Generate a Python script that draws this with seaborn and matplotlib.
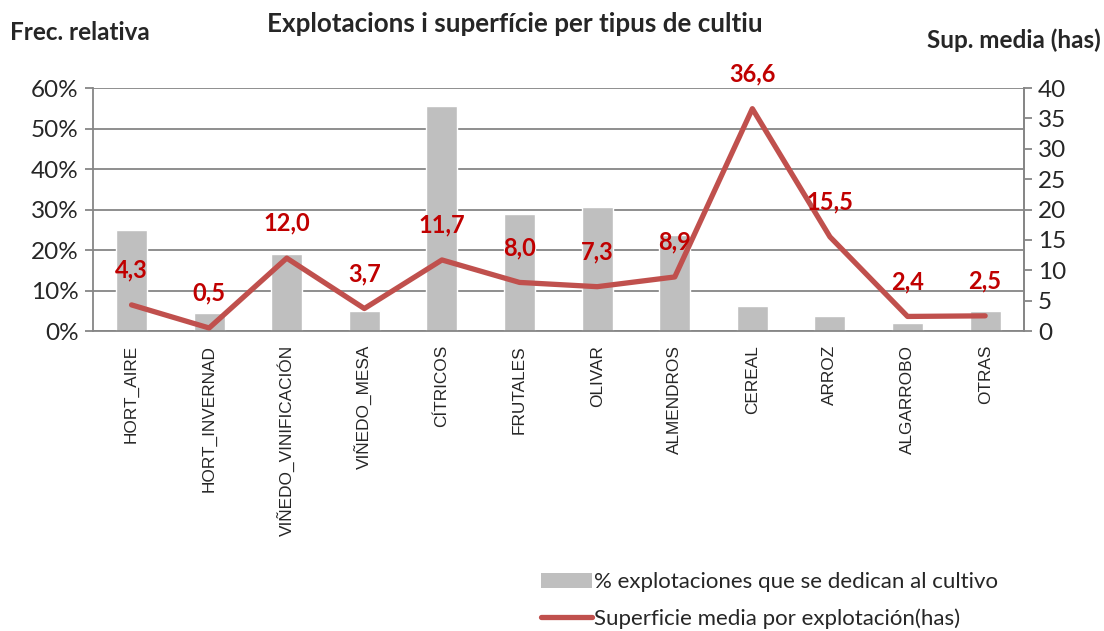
import numpy as np
import pandas as pd
import matplotlib
matplotlib.use("Agg")
import matplotlib.pyplot as plt
import seaborn as sns
from matplotlib.patches import Patch
from matplotlib.lines import Line2D
from matplotlib.ticker import FuncFormatter, MultipleLocator, FixedLocator

# Data
cultivos = ['HORT_AIRE', 'HORT_INVERNAD', 'VIÑEDO_VINIFICACIÓN', 'VIÑEDO_MESA',
            'CÍTRICOS', 'FRUTALES', 'OLIVAR', 'ALMENDROS', 'CEREAL', 'ARROZ',
            'ALGARROBO', 'OTRAS']
pct_explotaciones = [25.0, 4.5, 19.0, 5.0, 55.5, 28.8, 30.5, 23.8, 6.1, 3.8, 2.0, 5.0]
sup_media = [4.3, 0.5, 12.0, 3.7, 11.7, 8.0, 7.3, 8.9, 36.6, 15.5, 2.4, 2.5]

bar_label = '% explotaciones que se dedican al cultivo'
line_label = 'Superficie media por explotación(has)'

sns.set_style("white")
plt.rcParams['font.family'] = ['Lato', 'DejaVu Sans']

df = pd.DataFrame({'cultivo': cultivos, 'pct': pct_explotaciones, 'sup': sup_media})
df['pos'] = np.arange(len(df))

fig = plt.figure(figsize=(11.04, 6.31), dpi=100)
ax = fig.add_axes([0.084, 0.4754, 0.8435, 0.3851])

bar_color = '#BFBFBF'
line_color = '#C0504D'
grid_color = '#868686'

sns.barplot(data=df, x='cultivo', y='pct', color=bar_color, width=0.4,
            saturation=1, ax=ax, zorder=2)
ax.set_ylim(0, 60)
ax.yaxis.set_major_locator(MultipleLocator(10))
ax.yaxis.set_major_formatter(FuncFormatter(lambda v, p: f'{v:.0f}%'))
ax.grid(axis='y', color=grid_color, linewidth=1.3, zorder=0)
ax.set_axisbelow(True)
ax.set_xlim(-0.5, len(df) - 0.5)
ax.set_xlabel('')
ax.set_ylabel('')

# ticks between categories, labels at centers
ax.xaxis.set_major_locator(FixedLocator(df['pos']))
ax.set_xticklabels(cultivos, rotation=90, fontsize=12.4,
                   family=['Liberation Sans', 'DejaVu Sans'])
ax.xaxis.set_minor_locator(FixedLocator(np.arange(-0.5, len(df), 1)))
ax.tick_params(axis='x', which='major', length=0, pad=10)
ax.tick_params(axis='x', which='minor', length=6, color=grid_color, width=1.3, direction='out')
ax.tick_params(axis='y', labelsize=17.5, length=6, color=grid_color, width=1.3,
               direction='out', pad=4)

ax.spines['top'].set_visible(False)
for side in ['left', 'bottom', 'right']:
    ax.spines[side].set_color(grid_color)
    ax.spines[side].set_linewidth(1.3)

ax2 = ax.twinx()
sns.lineplot(data=df, x='pos', y='sup', sort=False, color=line_color,
             linewidth=3.8, ax=ax2, zorder=3)
ax2.set_ylim(0, 40)
ax2.yaxis.set_major_locator(MultipleLocator(5))
ax2.set_ylabel('')
ax2.set_xlabel('')
ax2.tick_params(axis='y', labelsize=17.5, length=6, color=grid_color, width=1.3,
                direction='out', pad=4)
for side in ['top', 'left', 'bottom']:
    ax2.spines[side].set_visible(False)
ax2.spines['right'].set_color(grid_color)
ax2.spines['right'].set_linewidth(1.3)

for x, v in zip(df['pos'], df['sup']):
    ax2.annotate(f'{v:.1f}'.replace('.', ','), (x, v), xytext=(0, 25),
                 textcoords='offset points', ha='center', va='center',
                 color='#C00000', fontsize=17, fontweight='bold')

fig.text(0.466, 0.962, 'Explotacions i superfície per tipus de cultiu',
         ha='center', va='center', fontsize=18.7, fontweight='bold')
fig.text(0.009, 0.948, 'Frec. relativa', ha='left', va='center',
         fontsize=17.5, fontweight='bold')
fig.text(0.997, 0.936, 'Sup. media (has)', ha='right', va='center',
         fontsize=17.5, fontweight='bold')

handles = [Patch(facecolor=bar_color, edgecolor='none'),
           Line2D([0], [0], color=line_color, linewidth=3.8)]
fig.legend(handles, [bar_label, line_label], loc='upper left',
           bbox_to_anchor=(0.482, 0.107), frameon=False, fontsize=16,
           handlelength=2.3, handletextpad=0.1, labelspacing=0.7,
           borderaxespad=0)

fig.savefig('out.png', dpi=100)
